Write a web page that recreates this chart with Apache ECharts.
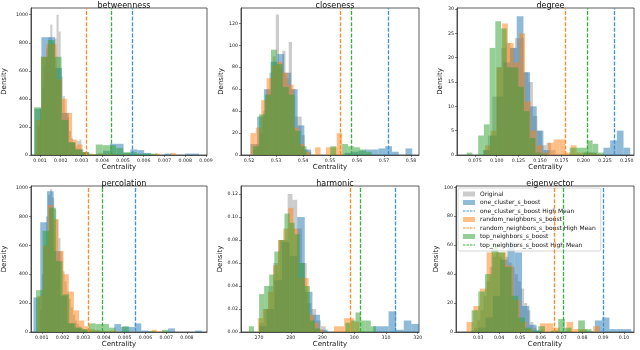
<!DOCTYPE html>
<html>
<head>
<meta charset="utf-8">
<script src="https://cdn.jsdelivr.net/npm/echarts@6/dist/echarts.min.js"></script>
<style>
html, body { margin: 0; padding: 0; background: #fff; }
#chart { width: 640px; height: 350px; }
</style>
</head>
<body>
<div id="chart"></div>
<script>
const seriesNames = ['Original', 'one_cluster_s_boost', 'random_neighbors_s_boost', 'top_neighbors_s_boost'];
const panelTitles = ['betweenness', 'closeness', 'degree', 'percolation', 'harmonic', 'eigenvector'];

// each hist: [first bin edge, bin width] in order Original, one_cluster, random_neighbors, top_neighbors
// means: one_cluster, random_neighbors, top_neighbors

// betweenness
const betweennessBins = [[0.0009, 0.0001], [0.00074, 0.00033], [0.0008, 0.00025], [0.00072, 0.00033]];
const betweennessOriginal = [200, 330, 480, 640, 760, 840, 930, 800, 830, 1000, 880, 560, 420, 300, 270, 170, 120, 90, 60, 100, 110, 40, 20];
const betweennessOneCluster = [330, 840, 840, 620, 300, 90, 40, 20, 0, 10, 30, 80, 80, 15, 40, 35, 15, 0, 0, 10, 0, 0, 10, 10];
const betweennessRandom = [250, 700, 790, 790, 540, 400, 300, 110, 75, 20, 10, 5, 10, 5, 10, 5, 0, 5, 0, 0, 0, 0, 0, 10, 0, 0, 15];
const betweennessTop = [340, 700, 820, 700, 250, 90, 40, 20, 5, 75, 70, 70, 50, 20, 20, 10, 10, 10];
const betweennessMeans = [0.00543, 0.00321, 0.00444];
const betweennessXRange = [0.00057, 0.00905];
const betweennessXTicks = [0.001, 0.002, 0.003, 0.004, 0.005, 0.006, 0.007, 0.008, 0.009];
const betweennessYMax = 1048;
const betweennessYTicks = [0, 200, 400, 600, 800, 1000];

// closeness
const closenessBins = [[0.5215, 0.0012], [0.5205, 0.0025], [0.5205, 0.002], [0.5215, 0.0022]];
const closenessOriginal = [5, 10, 20, 40, 60, 75, 90, 128, 80, 95, 70, 103, 60, 35, 35, 18, 5, 3];
const closenessOneCluster = [10, 35, 60, 85, 92, 75, 60, 27, 5, 0, 0, 0, 0, 0, 2, 3, 4, 5, 5, 6, 8, 3, 0, 6];
const closenessRandom = [20, 25, 50, 70, 82, 85, 75, 64, 25, 10, 3, 0, 7, 0, 7, 7, 20];
const closenessTop = [8, 37, 55, 96, 83, 62, 55, 22, 8, 0, 0, 0, 0, 8, 0, 10, 8, 7, 5, 3];
const closenessMeans = [0.5716, 0.5537, 0.558];
const closenessXRange = [0.517, 0.583];
const closenessXTicks = [0.52, 0.53, 0.54, 0.55, 0.56, 0.57, 0.58];
const closenessYMax = 134;
const closenessYTicks = [0, 20, 40, 60, 80, 100, 120];

// degree
const degreeBins = [[0.0846, 0.0052], [0.0846, 0.0077], [0.0865, 0.0066], [0.0654, 0.0066]];
const degreeOriginal = [1, 4, 12, 18, 22, 23, 22, 24, 24, 17, 15, 8, 5, 2, 2.5, 1];
const degreeOneCluster = [1, 4, 12, 19, 22, 28.5, 17, 10, 5, 1, 0, 0, 0, 0, 0, 0.5, 0.5, 0, 1.5, 3, 5, 1.5];
const degreeRandom = [2, 5, 18, 27, 23, 19, 25, 11, 5, 2, 0.5, 2.5, 3.2, 3.2, 0.5, 2, 0.5, 0.5, 0.5, 0.3];
const degreeTop = [0.5, 0, 4, 6.3, 22, 27.5, 26, 18, 18, 14, 9, 3.5, 0.5, 0.3, 0, 0, 0, 0, 1.5, 1.5, 1.5, 3, 2.3, 0.5];
const degreeMeans = [0.2357, 0.1796, 0.2039];
const degreeXRange = [0.0542, 0.2584];
const degreeXTicks = [0.075, 0.1, 0.125, 0.15, 0.175, 0.2, 0.225, 0.25];
const degreeYMax = 30.2;
const degreeYTicks = [0, 5, 10, 15, 20, 25, 30];

// percolation
const percolationBins = [[0.0009, 0.0001], [0.0006, 0.000325], [0.0008, 0.00025], [0.00072, 0.00032]];
const percolationOriginal = [150, 400, 600, 800, 950, 990, 930, 850, 780, 650, 560, 420, 350, 280, 230, 170, 120, 80, 60, 40, 30, 20, 10, 5];
const percolationOneCluster = [240, 760, 975, 560, 250, 60, 30, 15, 5, 10, 0, 0, 55, 35, 35, 60, 10, 5, 0, 0, 25, 0, 0, 0, 10];
const percolationRandom = [250, 600, 880, 780, 560, 400, 280, 150, 80, 40, 20, 10, 5, 5, 10, 5, 0, 0, 5, 0, 0, 0, 15, 5];
const percolationTop = [290, 700, 860, 490, 260, 60, 30, 20, 60, 55, 55, 30, 0, 40, 0, 0, 0, 5, 0, 15];
const percolationMeans = [0.00549, 0.00325, 0.00394];
const percolationXRange = [0.00048, 0.00897];
const percolationXTicks = [0.001, 0.002, 0.003, 0.004, 0.005, 0.006, 0.007, 0.008];
const percolationYMax = 1011;
const percolationYTicks = [0, 200, 400, 600, 800, 1000];

// harmonic
const harmonicBins = [[270, 1.5], [270, 2.4], [269.6, 1.6], [266.8, 1.6]];
const harmonicOriginal = [0.008, 0.02, 0.04, 0.06, 0.08, 0.08, 0.12, 0.115, 0.09, 0.06, 0.025, 0.02, 0.01, 0.005];
const harmonicOneCluster = [0.005, 0.02, 0.045, 0.078, 0.066, 0.1, 0.035, 0.015, 0.002, 0, 0, 0, 0, 0, 0, 0.005, 0.005, 0.018, 0.002, 0.01, 0.007];
const harmonicRandom = [0.012, 0.02, 0.035, 0.058, 0.08, 0.09, 0.108, 0.09, 0.047, 0.047, 0.015, 0.008, 0.002, 0, 0, 0.005, 0.005, 0.012, 0.012, 0.009];
const harmonicTop = [0.005, 0, 0.033, 0.04, 0.05, 0.07, 0.08, 0.103, 0.095, 0.085, 0.06, 0.04, 0.01, 0.003, 0, 0, 0, 0, 0, 0.008, 0.01, 0.017, 0.01, 0.01, 0.005];
const harmonicMeans = [312.8, 298.6, 301.8];
const harmonicXRange = [264.3, 320.4];
const harmonicXTicks = [270, 280, 290, 300, 310, 320];
const harmonicYMax = 0.127;
const harmonicYTicks = [0, 0.02, 0.04, 0.06, 0.08, 0.1, 0.12];

// eigenvector
const eigenvectorBins = [[0.028, 0.0015], [0.0265, 0.0035], [0.0244, 0.0032], [0.0268, 0.0032]];
const eigenvectorOriginal = [3, 8, 15, 25, 35, 45, 52, 55, 52, 50, 52, 48, 45, 40, 35, 30, 20, 15, 7, 3, 1];
const eigenvectorOneCluster = [1, 3, 10, 25, 50, 62, 55, 18, 5, 1, 0, 0.5, 0, 0.5, 0, 1, 0.5, 8, 10, 2, 2, 2];
const eigenvectorRandom = [7, 18, 30, 55, 55, 55, 46, 22, 7, 2, 0, 6, 6, 3, 0, 7, 2, 2, 0, 4];
const eigenvectorTop = [15, 28, 40, 61, 55, 45, 25, 10, 3, 1, 4, 0, 1, 9, 3, 0, 8, 2];
const eigenvectorMeans = [0.0902, 0.0667, 0.0707];
const eigenvectorXRange = [0.0193, 0.1048];
const eigenvectorXTicks = [0.03, 0.04, 0.05, 0.06, 0.07, 0.08, 0.09, 0.1];
const eigenvectorYMax = 100.9;
const eigenvectorYTicks = [0, 20, 40, 60, 80, 100];

const panels = [
  { bins: betweennessBins, hists: [betweennessOriginal, betweennessOneCluster, betweennessRandom, betweennessTop], means: betweennessMeans, xRange: betweennessXRange, xTicks: betweennessXTicks, yMax: betweennessYMax, yTicks: betweennessYTicks, xDigits: 3, yDigits: 0 },
  { bins: closenessBins, hists: [closenessOriginal, closenessOneCluster, closenessRandom, closenessTop], means: closenessMeans, xRange: closenessXRange, xTicks: closenessXTicks, yMax: closenessYMax, yTicks: closenessYTicks, xDigits: 2, yDigits: 0 },
  { bins: degreeBins, hists: [degreeOriginal, degreeOneCluster, degreeRandom, degreeTop], means: degreeMeans, xRange: degreeXRange, xTicks: degreeXTicks, yMax: degreeYMax, yTicks: degreeYTicks, xDigits: 3, yDigits: 0 },
  { bins: percolationBins, hists: [percolationOriginal, percolationOneCluster, percolationRandom, percolationTop], means: percolationMeans, xRange: percolationXRange, xTicks: percolationXTicks, yMax: percolationYMax, yTicks: percolationYTicks, xDigits: 3, yDigits: 0 },
  { bins: harmonicBins, hists: [harmonicOriginal, harmonicOneCluster, harmonicRandom, harmonicTop], means: harmonicMeans, xRange: harmonicXRange, xTicks: harmonicXTicks, yMax: harmonicYMax, yTicks: harmonicYTicks, xDigits: 0, yDigits: 2 },
  { bins: eigenvectorBins, hists: [eigenvectorOriginal, eigenvectorOneCluster, eigenvectorRandom, eigenvectorTop], means: eigenvectorMeans, xRange: eigenvectorXRange, xTicks: eigenvectorXTicks, yMax: eigenvectorYMax, yTicks: eigenvectorYTicks, xDigits: 2, yDigits: 0 }
];

// plot boxes in pixels
const boxes = [
  { left: 31, top: 8, width: 176, height: 147, yGap: 23 },
  { left: 241, top: 8, width: 178, height: 147, yGap: 14 },
  { left: 457, top: 8, width: 177, height: 147, yGap: 11 },
  { left: 31, top: 186, width: 176, height: 146, yGap: 23 },
  { left: 241, top: 186, width: 178, height: 146, yGap: 15 },
  { left: 456, top: 186, width: 178, height: 146, yGap: 13 }
];

const font = 'DejaVu Sans';
const fills = ['rgba(128,128,128,0.4)', 'rgba(31,119,180,0.5)', 'rgba(255,127,14,0.5)', 'rgba(44,160,44,0.5)'];
const meanColors = ['#3f93d2', '#ff8a24', '#3aaf3a'];
const spine = '#333';
// dashed legend swatch for the mean lines
const dashIcon = 'path://M0,0h2.6v1.2h-2.6z M3.7,0h2.6v1.2h-2.6z M7.4,0h2.6v1.2h-2.6z M11.1,0h1.5v1.2h-1.5z';

const renderBar = (params, api) => {
  const top = api.coord([api.value(0), api.value(2)]);
  const base = api.coord([api.value(1), 0]);
  return {
    type: 'rect',
    shape: { x: top[0], y: top[1], width: base[0] - top[0], height: base[1] - top[1] },
    style: api.style()
  };
};

const grids = [];
const xAxes = [];
const yAxes = [];
const titles = [];
const series = [];

panels.forEach((p, i) => {
  const b = boxes[i];
  grids.push({ left: b.left, top: b.top, width: b.width, height: b.height, show: true, borderColor: spine, borderWidth: 0.8, containLabel: false });
  titles.push({
    text: panelTitles[i], left: b.left + b.width / 2, top: b.top - 11, textAlign: 'center',
    textStyle: { fontSize: 8, fontWeight: 'normal', fontFamily: font, color: '#111' }
  });
  xAxes.push({
    type: 'value', gridIndex: i, min: p.xRange[0], max: p.xRange[1],
    name: 'Centrality', nameLocation: 'middle', nameGap: 9,
    nameTextStyle: { fontSize: 7, fontFamily: font, color: '#111' },
    axisLine: { show: true, onZero: false, lineStyle: { color: spine, width: 0.8 } },
    axisTick: { show: true, length: 2, customValues: p.xTicks, lineStyle: { color: spine, width: 0.6 } },
    axisLabel: { customValues: p.xTicks, fontSize: 4.7, margin: 3, fontFamily: font, color: '#222', formatter: v => v.toFixed(p.xDigits) },
    splitLine: { show: false }
  });
  yAxes.push({
    type: 'value', gridIndex: i, min: 0, max: p.yMax,
    name: 'Density', nameLocation: 'middle', nameGap: b.yGap,
    nameTextStyle: { fontSize: 7, fontFamily: font, color: '#111' },
    axisLine: { show: true, lineStyle: { color: spine, width: 0.8 } },
    axisTick: { show: true, length: 2, customValues: p.yTicks, lineStyle: { color: spine, width: 0.6 } },
    axisLabel: { customValues: p.yTicks, fontSize: 4.7, margin: 3, fontFamily: font, color: '#222', formatter: v => v.toFixed(p.yDigits) },
    splitLine: { show: false }
  });

  p.hists.forEach((counts, k) => {
    const [start, width] = p.bins[k];
    series.push({
      type: 'custom', name: seriesNames[k], xAxisIndex: i, yAxisIndex: i,
      renderItem: renderBar, silent: true,
      itemStyle: { color: fills[k] },
      encode: { x: [0, 1], y: 2 },
      data: counts.map((c, j) => [start + j * width, start + (j + 1) * width, c])
    });
  });

  p.means.forEach((m, k) => {
    const dash = { color: meanColors[k], type: [4, 1.6], width: 1.3 };
    series.push({
      type: 'line', name: seriesNames[k + 1] + ' High Mean', xAxisIndex: i, yAxisIndex: i,
      data: [], symbol: 'none', lineStyle: dash, itemStyle: { color: meanColors[k] },
      markLine: { symbol: 'none', silent: true, precision: 8, label: { show: false }, lineStyle: dash, data: [{ xAxis: m }] }
    });
  });
});

const chart = echarts.init(document.getElementById('chart'));
chart.setOption({
  animation: false,
  backgroundColor: '#fff',
  title: titles,
  legend: {
    left: 458, top: 188, orient: 'vertical',
    itemWidth: 12, itemHeight: 5, itemGap: 2.5,
    padding: [3, 5, 3, 5],
    backgroundColor: 'rgba(255,255,255,0.8)', borderColor: '#ccc', borderWidth: 0.8, borderRadius: 2,
    textStyle: { fontSize: 6, fontFamily: font, color: '#111' },
    data: [
      { name: 'Original', icon: 'rect' },
      { name: 'one_cluster_s_boost', icon: 'rect' },
      { name: 'one_cluster_s_boost High Mean', icon: dashIcon },
      { name: 'random_neighbors_s_boost', icon: 'rect' },
      { name: 'random_neighbors_s_boost High Mean', icon: dashIcon },
      { name: 'top_neighbors_s_boost', icon: 'rect' },
      { name: 'top_neighbors_s_boost High Mean', icon: dashIcon }
    ]
  },
  grid: grids,
  xAxis: xAxes,
  yAxis: yAxes,
  series: series
});
</script>
</body>
</html>
